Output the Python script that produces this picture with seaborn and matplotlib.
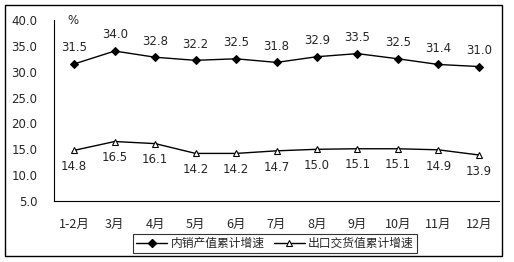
import matplotlib
matplotlib.use("Agg")
import matplotlib.pyplot as plt
import seaborn as sns
import pandas as pd
from matplotlib.patches import Rectangle
from matplotlib.lines import Line2D

months = ["1-2月", "3月", "4月", "5月", "6月", "7月", "8月", "9月", "10月", "11月", "12月"]
domestic = [31.5, 34.0, 32.8, 32.2, 32.5, 31.8, 32.9, 33.5, 32.5, 31.4, 31.0]
export = [14.8, 16.5, 16.1, 14.2, 14.2, 14.7, 15.0, 15.1, 15.1, 14.9, 13.9]
series_names = ["内销产值累计增速", "出口交货值累计增速"]
yticks = [5.0, 10.0, 15.0, 20.0, 25.0, 30.0, 35.0, 40.0]

sns.set_style("white")
plt.rcParams['font.family'] = ['Noto Sans CJK SC', 'DejaVu Sans']

df = pd.DataFrame({"x": list(range(len(months))) * 2,
                   "v": domestic + export,
                   "s": [series_names[0]] * len(months) + [series_names[1]] * len(months)})

fig = plt.figure(figsize=(5.14, 2.62), dpi=100)
ax = fig.add_axes([54/514, 1-201/262, (499-54)/514, (201-20)/262])

sns.lineplot(data=df[df.s == series_names[0]], x="x", y="v", ax=ax, color="black",
             lw=1.0, marker="D", markersize=4, markerfacecolor="black",
             markeredgecolor="black", legend=False)
sns.lineplot(data=df[df.s == series_names[1]], x="x", y="v", ax=ax, color="black",
             lw=1.0, marker="^", markersize=5, markerfacecolor="white",
             markeredgecolor="black", markeredgewidth=0.8, legend=False)

for i, v in enumerate(domestic):
    ax.annotate(f"{v:.1f}", (i, v), xytext=(0, 7), textcoords="offset points",
                ha="center", va="bottom", fontsize=8.5, family="DejaVu Sans")
for i, v in enumerate(export):
    ax.annotate(f"{v:.1f}", (i, v), xytext=(0, -7), textcoords="offset points",
                ha="center", va="top", fontsize=8.5, family="DejaVu Sans")

ax.set_xlim(-0.5, len(months) - 0.5)
ax.set_ylim(5, 40)
ax.set_yticks(yticks)
ax.set_yticklabels([f"{t:.1f}" for t in yticks], fontsize=8.5, family="DejaVu Sans")
ax.set_xticks(range(len(months)))
ax.set_xticklabels(months, fontsize=9)
ax.set_xticks([i - 0.5 for i in range(len(months) + 1)], minor=True)
ax.tick_params(axis="x", which="major", length=0, pad=12)
ax.tick_params(axis="x", which="minor", length=3, direction="in", width=0.8, color="black")
ax.tick_params(axis="y", length=3, direction="in", width=0.8, color="black", pad=12)
ax.set_xlabel("")
ax.set_ylabel("")
for s in ["top", "right"]:
    ax.spines[s].set_visible(False)
for s in ["left", "bottom"]:
    ax.spines[s].set_color("black")
    ax.spines[s].set_linewidth(0.8)

ax.text(0.03, 1.0, "%", transform=ax.transAxes, ha="left", va="center", fontsize=8.5, family="DejaVu Sans")

handles = [Line2D([], [], color="black", lw=1.0, marker="D", markersize=4),
           Line2D([], [], color="black", lw=1.0, marker="^", markersize=5,
                  markerfacecolor="white", markeredgewidth=0.8)]
leg = fig.legend(handles, series_names, loc="center", bbox_to_anchor=(275/514, 1-243.5/262),
                 ncol=2, frameon=True, fancybox=False, shadow=False, fontsize=8.5,
                 handlelength=2.6, handletextpad=0.3, columnspacing=0.8,
                 borderpad=0.25, borderaxespad=0)
leg.get_frame().set_edgecolor("black")
leg.get_frame().set_linewidth(0.8)

fig.patches.append(Rectangle((5/514, 6/262), (502-5)/514, (256-5)/262, transform=fig.transFigure,
                             fill=False, edgecolor="black", lw=1.0))

fig.savefig("out.png", dpi=100)
